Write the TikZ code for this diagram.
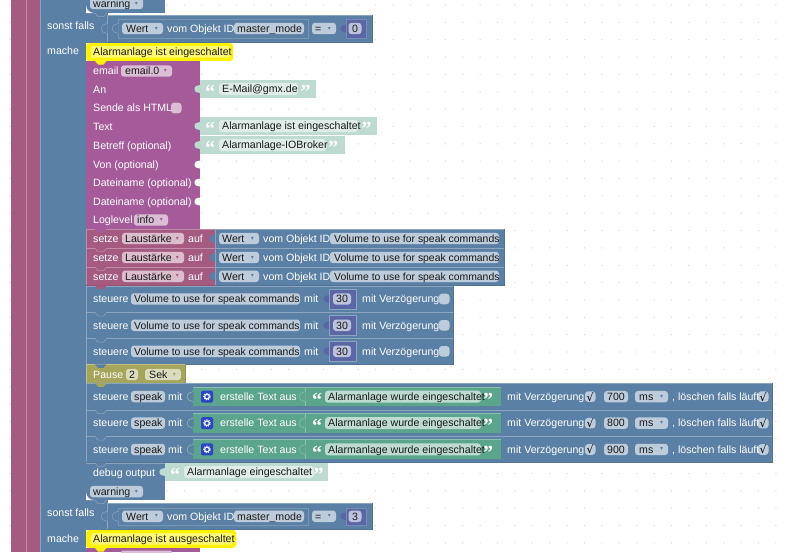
\documentclass[tikz,border=0pt]{standalone}
\usepackage{fontspec}
\setmainfont{Liberation Sans}
\newfontfamily\symfont{DejaVu Sans}
\newfontfamily\quotefont{Liberation Serif}
\definecolor{bblue}{HTML}{5B80A5}
\definecolor{bblueL}{HTML}{8CA6C0}
\definecolor{fblue}{HTML}{BDCCDB}
\definecolor{bpink}{HTML}{A55B80}
\definecolor{bpinkL}{HTML}{C08CA6}
\definecolor{fpink}{HTML}{DBBDCC}
\definecolor{bpurp}{HTML}{A55B99}
\definecolor{fpurp}{HTML}{DBBDD6}
\definecolor{bolive}{HTML}{A5A55B}
\definecolor{folive}{HTML}{DBDBBD}
\definecolor{bgreen}{HTML}{5BA58C}
\definecolor{bgreenL}{HTML}{8CC0AE}
\definecolor{fgreen}{HTML}{BDDBD1}
\definecolor{lgreen}{HTML}{BDDBD1}
\definecolor{fgreenL}{HTML}{DEEDE8}
\definecolor{bnum}{HTML}{5B67A5}
\definecolor{fnum}{HTML}{BDC2DB}
\definecolor{griddot}{HTML}{DADADA}
\definecolor{txt}{HTML}{1A1A1A}
\definecolor{gearbox}{HTML}{2A45C8}
\newcommand{\lab}[3]{\node[lbl] at (#1,#2) {#3};}
\newcommand{\fld}[6]{% x0 x1 yc fill textx text
  \fill[#4,rounded corners=3pt] (#1,#3-5.7) rectangle (#2,#3+5.7);
  \node[ftxt] at (#5,#3) {#6};}
\newcommand{\dropfld}[7]{% x0 x1 yc fill textx text arrowcolor
  \fld{#1}{#2}{#3}{#4}{#5}{#6}
  \node[font=\fontsize{6}{6}\symfont,text=#7,inner sep=0pt] at (#2-6.5,#3) {▾};}
\newcommand{\cbox}[3]{\fill[#3,rounded corners=3pt] (#1,#2-5.3) rectangle (#1+10.5,#2+5.3);}
\newcommand{\chk}[3]{\cbox{#1}{#2}{#3}\node[font=\fontsize{11}{11}\symfont,text=black,inner sep=0pt] at (#1+5.2,#2) {√};}
\newcommand{\tabdown}[3]{\fill[#3] (#1,#2) -- (#1+3,#2+3.5) -- (#1+8.5,#2+3.5) -- (#1+11.5,#2) -- cycle;}
\newcommand{\tabline}[4]{\fill[#3] (#1,#2-.2) -- (#1+3,#2+3.5) -- (#1+8.5,#2+3.5) -- (#1+11.5,#2-.2) -- cycle;
  \draw[#4,line width=.5pt] (#1,#2+.2) -- (#1+3,#2+3.7) -- (#1+8.5,#2+3.7) -- (#1+11.5,#2+.2);}
\newcommand{\notchin}[3]{\fill[#3] (#1,#2-4) -- (#1-4,#2-3) -- (#1-5.5,#2-1) -- (#1-5.5,#2+1) -- (#1-4,#2+3) -- (#1,#2+4) -- cycle;}
\newcommand{\notchline}[4]{\fill[#3] (#1+.5,#2-5) -- (#1-4,#2-3.5) -- (#1-5.5,#2-1.5) -- (#1-5.5,#2+1.5) -- (#1-4,#2+3.5) -- (#1+.5,#2+5) -- cycle;
  \draw[#4,line width=.5pt] (#1,#2-5) -- (#1-4,#2-3.5) -- (#1-5.5,#2-1.5) -- (#1-5.5,#2+1.5) -- (#1-4,#2+3.5) -- (#1,#2+5);}
\newcommand{\block}[6]{% x0 y0 x1 y1 fill light
  \fill[#5] (#1,#2) rectangle (#3,#4);
  \draw[#6,line width=.7pt] (#1+.4,#4) -- (#1+.4,#2+.4) -- (#3,#2+.4);
  \draw[#5!90!black,line width=.4pt] (#3-.3,#2) -- (#3-.3,#4-.3) -- (#1,#4-.3);}
\newcommand{\qopen}[3]{\node[font=\fontsize{20}{20}\quotefont\bfseries,text=#3,inner sep=0pt] at (#1,#2+3) {“};}
\newcommand{\qclose}[3]{\node[font=\fontsize{20}{20}\quotefont\bfseries,text=#3,inner sep=0pt] at (#1,#2+3) {”};}
\newcommand{\ghost}[7]{% x0 x1 y0 y1 fx1 text quote x
  \pgfmathsetmacro\ym{(#3+#4)/2}
  \fill[lgreen] (#1,#3) rectangle (#2,#4);
  \fill[fgreenL,rounded corners=3pt] (#1+19,#3+3) rectangle (#5,#4-3);
  \qopen{#1+10}{\ym}{white}
  \qclose{#7}{\ym}{white}
  \node[ftxt] at (#1+22,\ym) {#6};
  \notchin{#1}{\ym}{lgreen}}
\newcommand{\valblock}[3]{% ytop ybottom number
  \pgfmathsetmacro\ym{(#1+#2)/2}
  \block{107}{#1}{372}{#2}{bblue}{bblueL}
  \draw[bblueL!60!bblue,line width=.6pt,fill=bblue] (118,#1+4.5) rectangle (308,#2-4);
  \notchline{118}{\ym}{bblue}{bblueL}
  \notchline{107}{\ym}{bblue}{bblueL}
  \dropfld{122}{163}{\ym}{fblue}{126}{Wert}{bblue}
  \lab{167}{\ym}{vom Objekt ID}
  \fld{234}{304}{\ym}{fblue}{237}{master\_mode}
  \dropfld{312}{336}{\ym}{fblue}{315}{=}{bblue}
  \fill[bnum] (346,#1+4.5) rectangle (366,#2-4);
  \draw[bblueL!60!bnum,line width=.4pt] (346,#1+4.5) rectangle (366,#2-4);
  \notchin{346}{\ym}{bnum}
  \fill[fnum,rounded corners=3pt] (348.5,\ym-5.7) rectangle (361.5,\ym+5.7);
  \node[ftxt,anchor=base] at (355,\ym) {#3};}
\newcommand{\setzerow}[2]{% y0 y1
  \pgfmathsetmacro\ym{(#1+#2)/2}
  \block{86}{#1}{215}{#2}{bpink}{bpinkL}
  \lab{93}{\ym}{setze}
  \dropfld{122}{184}{\ym}{fpink}{125}{Laustärke}{bpink}
  \lab{188}{\ym}{auf}
  \block{215}{#1}{504}{#2}{bblue}{bblueL}
  \notchin{215}{\ym}{bblue}
  \dropfld{219}{259}{\ym}{fblue}{222}{Wert}{bblue}
  \lab{263}{\ym}{vom Objekt ID}
  \fld{330}{499}{\ym}{fblue}{334}{\fontsize{10.4}{12}\selectfont Volume to use for speak commands}}
\newcommand{\steuerevol}[2]{% y0 y1
  \pgfmathsetmacro\ym{(#1+#2)/2}
  \block{86}{#1}{453.3}{#2}{bblue}{bblueL}
  \lab{93}{\ym}{steuere}
  \fld{131}{300}{\ym}{fblue}{134}{\fontsize{10.4}{12}\selectfont Volume to use for speak commands}
  \lab{304}{\ym}{mit}
  \fill[bnum] (329,\ym-10) rectangle (356,\ym+10);
  \draw[bblueL,line width=.4pt] (329,\ym-10) rectangle (356,\ym+10);
  \notchin{329}{\ym}{bnum}
  \fill[fnum,rounded corners=3pt] (333,\ym-5.7) rectangle (351,\ym+5.7);
  \node[ftxt,anchor=base] at (342,\ym) {30};
  \lab{362}{\ym}{mit Verzögerung}
  \cbox{439}{\ym}{fblue}}
\newcommand{\speakrow}[3]{% y0 y1 number
  \pgfmathsetmacro\ym{(#1+#2)/2}
  \block{86}{#1}{772}{#2}{bblue}{bblueL}
  \lab{93}{\ym}{steuere}
  \fld{131}{165}{\ym}{fblue}{134}{speak}
  \lab{168}{\ym}{mit}
  \fill[bgreen] (193,\ym-9.8) rectangle (501,\ym+9.8);
  \draw[bgreenL,line width=.5pt] (193,\ym-9.8) -- (501,\ym-9.8) (305,\ym-9.8) -- (305,\ym+9.8);
  \notchline{193}{\ym}{bblue}{bgreenL}
  \notchline{305}{\ym}{bgreen}{bgreenL}
  \fill[gearbox,rounded corners=2pt] (201,\ym-6) rectangle (213,\ym+6);
  \draw[white,line width=1.1pt] (207,\ym) circle (2.3pt);
  \draw[white,line width=1pt,dash pattern=on 1.1pt off 1.2pt] (207,\ym) circle (3.3pt);
  \lab{220}{\ym}{erstelle Text aus}
  \qopen{317}{\ym}{white}
  \fill[fgreen,rounded corners=3pt] (325,\ym-6) rectangle (481,\ym+6);
  \node[ftxt] at (328,\ym) {Alarmanlage wurde eingeschaltet};
  \qclose{488}{\ym}{white}
  \lab{507}{\ym}{mit Verzögerung}
  \chk{585}{\ym}{fblue}
  \fld{604}{628}{\ym}{fblue}{607}{#3}
  \dropfld{635}{668}{\ym}{fblue}{639}{ms}{bblue}
  \lab{672}{\ym}{, löschen falls läuft}
  \chk{758}{\ym}{fblue}}
\tikzset{
  x=1pt,y=-1pt,
  lbl/.style={anchor=base west,yshift=-3.7pt,inner sep=0pt,text=white,font=\fontsize{10.6}{12}\selectfont},
  ftxt/.style={anchor=base west,yshift=-3.7pt,inner sep=0pt,text=txt,font=\fontsize{10.6}{12}\selectfont},
}
\begin{document}
\begin{tikzpicture}
\useasboundingbox (0,0) rectangle (793,552);
\fill[white] (0,0) rectangle (793,552);
% grid
\foreach \i in {0,...,45}{\foreach \j in {0,...,31}{
  \fill[griddot] ({10.3+17.4*\i},{5.0+17.35*\j}) circle (.7pt);}}
% strips
\fill[bpink] (11,0) rectangle (26,552);
\fill[bpink] (27,0) rectangle (40,552);
\fill[bpinkL] (26,0) rectangle (27,552);
\fill[bblueL] (40,0) rectangle (41,552);
% main column
\fill[bblue] (41,0) rectangle (86,552);
\fill[bblue] (86,13) rectangle (107.5,43);
\fill[bblue] (86,500) rectangle (107.5,530);
\lab{47}{26}{sonst falls}
\lab{47}{51}{mache}
\lab{47}{512.7}{sonst falls}
\lab{47}{539}{mache}
% top statement
\fill[bblue] (86,0) rectangle (165,13);
\dropfld{90}{143}{3.5}{fblue}{93}{warning}{bblue}
\fill[white] (86,5) -- (86,13) -- (94,13) to[out=180,in=-90] (86,5) -- cycle;
\tabline{95}{13}{bblue}{bblueL}
\valblock{15}{42}{0}
% yellow comment 1
\fill[yellow,rounded corners=3pt] (86,43) rectangle (233,61);
\fill[yellow!55!white,rounded corners=2pt] (91,46) rectangle (230,57.5);
\node[ftxt] at (93,51.7) {Alarmanlage ist eingeschaltet};
% purple email block
\fill[bpurp] (86,61) rectangle (200,229);
\tabdown{95}{61}{yellow}
\lab{93}{71}{email}
\dropfld{121}{172}{71}{fpurp}{125}{email.0}{bpurp}
\lab{93}{89.5}{An}
\lab{93}{108}{Sende als HTML}
\cbox{171}{108}{fpurp}
\lab{93}{126.5}{Text}
\lab{93}{145.5}{Betreff (optional)}
\lab{93}{164.5}{Von (optional)}
\lab{93}{182.5}{Dateiname (optional)}
\lab{93}{201.5}{Dateiname (optional)}
\lab{93}{220}{Loglevel}
\dropfld{134}{168}{220}{fpurp}{137}{info}{bpurp}
\ghost{200}{316}{80}{98}{298}{E-Mail@gmx.de}{305.5}
\ghost{200}{377}{117}{135}{358}{Alarmanlage ist eingeschaltet}{366.5}
\ghost{200}{345}{136}{154}{326}{Alarmanlage-IOBroker}{333}
\notchin{200}{164.5}{white}
\notchin{200}{182.5}{white}
\notchin{200}{201.5}{white}
% setze rows
\setzerow{229}{248}
\setzerow{248}{267}
\setzerow{267}{285.6}
\tabdown{95}{229}{bpurp}
\tabline{95}{248}{bpink}{bpinkL}
\tabline{95}{267}{bpink}{bpinkL}
% steuere volume
\steuerevol{285.6}{312.3}
\steuerevol{312.3}{338.3}
\steuerevol{338.3}{364.3}
\tabdown{95}{285.6}{bpink}
\tabline{95}{312.3}{bblue}{bblueL}
\tabline{95}{338.3}{bblue}{bblueL}
% pause
\block{86}{364.3}{185}{383.3}{bolive}{bolive!70!white}
\tabdown{95}{364.3}{bblue}
\lab{93}{374.5}{Pause}
\fld{126}{138}{374.5}{folive}{129}{2}
\dropfld{145}{181}{374.5}{folive}{149}{Sek}{bolive}
% speak
\speakrow{383.3}{410}{700}
\speakrow{410}{436.3}{800}
\speakrow{436.3}{462.6}{900}
\tabdown{95}{383.3}{bolive}
\tabline{95}{410}{bblue}{bblueL}
\tabline{95}{436.3}{bblue}{bblueL}
% debug
\fill[bblue] (86,462.6) rectangle (165,500);
\draw[bblueL,line width=.6pt] (86,462.8) -- (165,462.8);
\tabline{95}{462.6}{bblue}{bblueL}
\lab{93}{472.6}{debug output}
\dropfld{90}{143}{491.6}{fblue}{93}{warning}{bblue}
\ghost{165}{328}{463}{481}{314}{Alarmanlage eingeschaltet}{318.5}
\fill[white] (86,492) -- (86,500) -- (94,500) to[out=180,in=-90] (86,492) -- cycle;
\tabline{95}{500}{bblue}{bblueL}
% second value block
\valblock{503.3}{529.3}{3}
% yellow comment 2
\fill[yellow,rounded corners=3pt] (86,530) rectangle (236,548);
\fill[yellow!55!white,rounded corners=2pt] (91,533) rectangle (233,544.5);
\node[ftxt] at (93,539) {Alarmanlage ist ausgeschaltet};
% purple tail
\fill[bpurp] (86,548) rectangle (200,552);
\tabdown{95}{548}{yellow}
\fill[fpurp,rounded corners=2pt] (121,550.5) rectangle (172,556);
\end{tikzpicture}
\end{document}
